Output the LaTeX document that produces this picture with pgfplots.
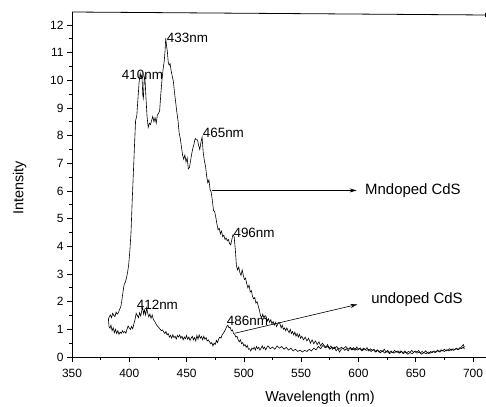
\documentclass[border=0pt]{standalone}
\usepackage{fontspec}
\setmainfont{Liberation Sans}
\usepackage{pgfplots}
\pgfplotsset{compat=1.18}
\usetikzlibrary{arrows.meta,calc}
\begin{document}
\begin{tikzpicture}
\begin{axis}[
  scale only axis,
  width=414bp, height=345bp,
  xmin=350, xmax=711.3, ymin=0, ymax=12.47,
  axis x line*=bottom, axis y line*=left,
  axis line style={line width=0.8bp,-},
  tick align=outside,
  xtick={350,400,...,700},
  ytick={0,1,...,12},
  minor x tick num=1, minor y tick num=1,
  major tick length=5bp, minor tick length=3bp,
  every tick/.style={black,line width=0.7bp},
  tick label style={font=\fontsize{12}{14}\selectfont},
  xticklabel style={yshift=-4bp},
  /pgf/number format/assume math mode=true,
  xlabel={Wavelength (nm)}, ylabel={Intensity},
  xlabel style={at={(rel axis cs:0.599,0)},anchor=base,yshift=-44bp,font=\fontsize{14.5}{16}\selectfont},
  ylabel style={at={($(rel axis cs:0,0.49)+(-48.5bp,0)$)},anchor=base,font=\fontsize{14.5}{16}\selectfont},
  clip=false,
]
\addplot[black, line width=0.6bp] coordinates {
(381.7,1.34)(382.5,1.45)(383.5,1.52)(384.5,1.42)(385.5,1.58)(386.5,1.50)(387.5,1.46)(388.5,1.62)(389.5,1.55)(390.5,1.60)
(391.5,1.72)(392.5,1.80)(393.5,2.05)(394.5,2.35)(395.5,2.62)(396.5,2.70)(397.5,2.85)(398.5,3.05)(399.5,3.35)(400.5,3.85)
(401.5,4.50)(402.5,5.60)(403.5,6.60)(404.5,7.60)(405.5,8.55)(406.5,8.70)(407.5,9.30)(408.5,9.90)(409.5,10.25)(410.2,10.10)
(411.0,10.20)(411.8,9.45)(412.3,9.35)(413.0,10.05)(413.6,10.15)(414.5,9.40)(415.5,8.70)(416.5,8.30)(417.5,8.45)(418.5,8.40)
(419.5,8.55)(420.5,8.70)(421.5,8.50)(422.5,8.65)(423.5,8.45)(424.5,8.75)(425.5,8.80)(426.5,8.90)(427.5,9.50)(428.5,10.00)
(429.5,10.40)(430.5,10.70)(431.2,11.05)(431.8,11.52)(432.5,11.25)(433.2,11.05)(434.0,10.65)(434.8,10.55)(435.6,10.60)(436.5,10.35)
(437.5,10.15)(438.5,9.95)(439.5,9.55)(440.5,9.20)(441.5,8.85)(442.5,8.55)(443.5,8.10)(444.5,7.90)(445.5,7.60)(446.5,7.30)
(447.5,7.15)(448.5,7.30)(449.5,7.05)(450.5,7.20)(451.5,6.80)(452.5,6.85)(453.5,7.10)(454.5,7.35)(455.5,7.55)(456.5,7.70)
(457.5,7.90)(458.5,7.85)(459.5,7.85)(460.5,7.65)(461.5,7.50)(462.5,7.75)(463.5,7.95)(464.5,7.40)(465.5,7.10)(466.5,6.90)
(467.5,6.55)(468.5,6.30)(469.5,6.40)(470.5,6.05)(471.5,5.95)(472.5,5.65)(473.5,5.30)(474.5,5.25)(475.5,5.05)(476.5,4.80)
(477.5,4.60)(478.5,4.65)(479.5,4.45)(480.5,4.55)(481.5,4.35)(482.5,4.40)(483.5,4.25)(484.5,4.30)(485.5,4.20)(486.5,4.25)
(487.5,4.10)(488.5,4.05)(489.5,4.25)(490.5,4.42)(491.5,4.35)(492.5,3.90)(493.5,3.30)(494.5,3.15)(495.5,3.25)(496.5,3.05)
(497.5,2.95)(498.5,3.15)(499.5,2.95)(500.5,2.80)(501.5,2.85)(502.5,2.65)(503.5,2.50)(504.5,2.60)(505.5,2.35)(506.5,2.40)
(507.5,2.20)(508.5,2.10)(509.5,2.15)(510.5,1.95)(511.5,2.00)(512.5,1.85)(513.5,1.70)(514.5,1.50)(515.5,1.42)(516.5,1.55)
(517.5,1.40)(518.5,1.50)(519.5,1.45)(520.5,1.30)(521.5,1.38)(522.5,1.25)(523.5,1.35)(524.5,1.20)(525.5,1.28)(526.5,1.15)
(527.5,1.25)(528.5,1.10)(529.5,1.18)(530.5,1.25)(531.5,1.20)(532.5,1.05)(533.5,1.15)(534.5,1.00)(535.5,1.05)(536.5,0.95)
(537.5,1.05)(538.5,0.95)(539.5,0.88)(540.5,1.00)(541.5,0.85)(542.5,0.92)(543.5,0.80)(544.5,0.90)(545.5,0.75)(546.5,0.85)
(547.5,0.72)(548.5,0.82)(549.5,0.68)(550.5,0.75)(552,0.62)(553.5,0.72)(555,0.58)(556.5,0.68)(558,0.50)(559.5,0.62)
(561,0.48)(562.5,0.58)(564,0.45)(565.5,0.55)(567,0.40)(568.5,0.50)(570,0.42)(571.5,0.35)(573,0.45)(574.5,0.32)
(576,0.40)(577.5,0.28)(579,0.36)(580.5,0.22)(582,0.30)(583.5,0.18)(585,0.28)(586.5,0.32)(588,0.24)(589.5,0.30)
(591,0.22)(592.5,0.32)(594,0.26)(595.5,0.34)(597,0.24)(598.5,0.36)(600,0.28)(601.5,0.33)(603,0.25)(604.5,0.32)
(606,0.26)(607.5,0.34)(609,0.22)(610.5,0.30)(612,0.24)(613.5,0.28)(615,0.20)(616.5,0.26)(618,0.18)(619.5,0.24)
(621,0.20)(622.5,0.28)(624,0.18)(625.5,0.24)(627,0.16)(628.5,0.22)(630,0.15)(631.5,0.24)(633,0.18)(634.5,0.22)
(636,0.14)(637.5,0.20)(639,0.16)(640.5,0.22)(642,0.14)(643.5,0.20)(645,0.17)(646.5,0.24)(648,0.16)(649.5,0.22)
(651,0.18)(652.5,0.24)(654,0.14)(655.5,0.20)(657,0.15)(658.5,0.22)(660,0.16)(661.5,0.12)(663,0.20)(664.5,0.16)
(666,0.22)(667.5,0.18)(669,0.25)(670.5,0.20)(672,0.26)(673.5,0.22)(675,0.28)(676.5,0.22)(678,0.26)(679.5,0.30)
(681,0.24)(682.5,0.30)(684,0.26)(685.5,0.32)(687,0.28)(688.5,0.34)(690,0.30)(691.5,0.36)(692.5,0.28)
};
\addplot[black, line width=0.6bp] coordinates {
(381.7,1.40)(382.3,1.10)(383.2,1.04)(384,1.15)(385,0.95)(386,1.05)(387,0.88)(388,1.00)(389,0.85)(390,0.95)
(391,0.82)(392,0.90)(393,0.85)(394,0.95)(395,0.88)(396,0.92)(397,0.86)(398,1.00)(399,1.12)(400,1.05)
(401,1.00)(402,1.10)(403,1.02)(404,1.20)(405,1.35)(406,1.58)(407,1.50)(408,1.42)(409,1.60)(410,1.48)
(411,1.70)(411.7,1.78)(412.5,1.55)(413.3,1.70)(414.3,1.52)(415.2,1.78)(416,1.60)(417,1.45)(418,1.55)(419,1.40)
(420,1.52)(421,1.35)(422,1.30)(423,1.22)(424,1.15)(425,1.10)(426,1.05)(427,1.00)(428,0.95)(429,0.98)
(430,0.90)(431,0.85)(432,0.92)(433,0.80)(434,0.85)(435,0.72)(436,0.78)(437,0.68)(438,0.80)(439,0.70)
(440,0.75)(441,0.65)(442,0.78)(443,0.72)(444,0.80)(445,0.68)(446,0.75)(447,0.62)(448,0.72)(449,0.66)
(450,0.78)(451,0.64)(452,0.72)(453,0.60)(454,0.68)(455,0.75)(456,0.62)(457,0.70)(458,0.58)(459,0.78)
(460,0.65)(461,0.80)(462,0.68)(463,0.74)(464,0.62)(465,0.75)(466,0.64)(467,0.70)(468,0.58)(469,0.62)
(470,0.55)(471,0.48)(472,0.52)(473,0.40)(474,0.50)(475,0.45)(476,0.60)(477,0.52)(478,0.65)(479,0.72)
(480,0.68)(481,0.80)(482,0.85)(483,0.92)(484,1.00)(485,1.10)(486,1.15)(487,1.05)(488,1.08)(489,0.95)
(490,0.98)(491,0.85)(492,0.82)(493,0.72)(494,0.75)(495,0.62)(496,0.55)(497,0.62)(498,0.48)(499,0.52)
(500,0.40)(501,0.45)(502,0.35)(503,0.42)(504,0.28)(505,0.30)(506,0.22)(507,0.32)(508,0.28)(509,0.35)
(510,0.25)(511,0.38)(512,0.30)(513,0.35)(514,0.25)(515,0.32)(516,0.40)(517,0.30)(518,0.36)(519,0.26)
(520,0.34)(521,0.40)(523,0.30)(525,0.36)(527,0.28)(529,0.40)(531,0.32)(533,0.38)(535,0.28)(537,0.35)
(539,0.25)(541,0.32)(543,0.22)(545,0.28)(547,0.20)(549,0.25)(551,0.18)(553,0.24)(555,0.20)(557,0.28)
(559,0.22)(561,0.32)(563,0.26)(565,0.38)(567,0.30)(569,0.42)(571,0.33)(573,0.38)(575,0.28)(577,0.36)
(579,0.30)(581,0.38)(583,0.28)(585,0.35)(587,0.30)(589,0.38)(591,0.28)(593,0.35)(595,0.26)(597,0.32)
(599,0.25)(601,0.30)(603,0.22)(605,0.30)(607,0.24)(609,0.28)(611,0.20)(613,0.26)(615,0.18)(617,0.24)
(619,0.15)(621,0.22)(623,0.14)(625,0.20)(627,0.12)(629,0.18)(631,0.14)(633,0.20)(635,0.15)(637,0.22)
(639,0.12)(641,0.18)(643,0.10)(645,0.16)(647,0.12)(649,0.20)(651,0.14)(653,0.18)(655,0.10)(657,0.16)
(659,0.12)(661,0.18)(663,0.14)(665,0.20)(667,0.16)(669,0.22)(671,0.18)(673,0.24)(675,0.20)(677,0.26)
(679,0.22)(681,0.28)(683,0.24)(685,0.30)(687,0.26)(689,0.32)(690.5,0.40)(691.5,0.45)(692.5,0.35)
};
\coordinate (BL) at (rel axis cs:0,0);
\coordinate (TR) at (rel axis cs:1,1);
\draw[line width=0.8bp,-{Bar[width=4bp]}] (rel axis cs:0,1) -- (rel axis cs:1,0.9913);
\begin{scope}[every node/.style={inner sep=0pt,anchor=west,font=\fontsize{13.5}{15}\selectfont}]
\node at (axis cs:432.6,11.54) {433nm};
\node at (axis cs:393.4,10.19) {410nm};
\node at (axis cs:464.0,8.11) {465nm};
\node at (axis cs:490.8,4.47) {496nm};
\node at (axis cs:406.4,1.89) {412nm};
\node at (axis cs:485.0,1.30) {486nm};
\end{scope}
\draw[line width=0.6bp,-{Stealth[length=7bp,width=4bp]}] (axis cs:471.9,6.02) -- (axis cs:598.4,6.02);
\draw[line width=0.6bp,-{Stealth[length=7bp,width=4bp]}] (axis cs:492.2,0.86) -- (axis cs:599,1.90);
\node[inner sep=0pt,anchor=west,font=\fontsize{15}{17}\selectfont] at (axis cs:605.7,6.0) {Mndoped CdS};
\node[inner sep=0pt,anchor=west,font=\fontsize{15}{17}\selectfont] at (axis cs:611,2.06) {undoped CdS};
\end{axis}
\pgfresetboundingbox
\path ([shift={(-72bp,-50bp)}]BL) rectangle ([shift={(0bp,12bp)}]TR);
\end{tikzpicture}
\end{document}
